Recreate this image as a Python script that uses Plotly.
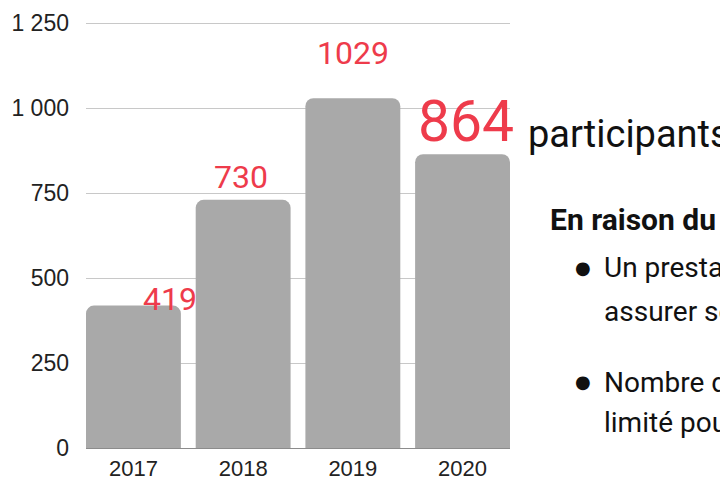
import plotly.graph_objects as go

years = ["2017", "2018", "2019", "2020"]
participants = [419, 730, 1029, 864]
label_texts = ["419", "730", "1029", "864"]
y_ticks = [0, 250, 500, 750, 1000, 1250]

BAR = "#a9a9a9"
RED = "#ee3b4b"
HAND = "Roboto, sans-serif"
COND = "Roboto, sans-serif"

# page body has an 8px offset; figure sized so it ends at the window edge
OFF = 8
W, H = 720, 474
L, R, T, B = 78, 218, 13, 34
pw, ph = W - L - R, H - T - B

def px(xs):
    return (xs - OFF - L) / pw

def py(ys):
    return (H - B - (ys - OFF)) / ph

fig = go.Figure()
fig.add_trace(go.Bar(
    x=years, y=participants,
    marker=dict(color=BAR, line=dict(width=0)),
    hoverinfo="x+y",
))

# value labels (anchored to the data points)
shifts = [(37, 7), (-2, 23), (0, 45), (3, 33)]
sizes = [32, 32, 32, 57]
for i, (v, t, (dx, dy), s) in enumerate(zip(participants, label_texts, shifts, sizes)):
    fig.add_annotation(x=i, y=v, xref="x", yref="y", text=t, showarrow=False,
                       xanchor="center", yanchor="middle", xshift=dx, yshift=dy,
                       font=dict(family=HAND, size=s, color=RED))

# right side text
fig.add_annotation(xref="paper", yref="paper", x=px(526), y=py(134), text="participants",
                   showarrow=False, xanchor="left", yanchor="middle",
                   font=dict(family=COND, size=38, color="#111111"))
fig.add_annotation(xref="paper", yref="paper", x=px(548), y=py(220),
                   text="<b>En raison du COVID-19 :</b>",
                   showarrow=False, xanchor="left", yanchor="middle",
                   font=dict(family=COND, size=30, color="#111111"))
lines = [
    (267, "Un prestataire n'a pas pu"),
    (311, "assurer ses ateliers"),
    (382, "Nombre de participants"),
    (422, "limité pour respecter les règles"),
]
for yp, t in lines:
    fig.add_annotation(xref="paper", yref="paper", x=px(602), y=py(yp), text=t,
                       showarrow=False, xanchor="left", yanchor="middle",
                       font=dict(family=COND, size=28, color="#111111"))
for yp in (267, 381):
    fig.add_annotation(xref="paper", yref="paper", x=px(583), y=py(yp), text="●",
                       showarrow=False, xanchor="center", yanchor="middle",
                       font=dict(family="DejaVu Sans", size=18, color="#111111"))

fig.update_layout(
    width=W, height=H,
    margin=dict(l=L, r=R, t=T, b=B, autoexpand=False),
    paper_bgcolor="white", plot_bgcolor="white",
    bargap=0.135, barcornerradius=8,
    separators=", ",
    showlegend=False,
    font=dict(family="Liberation Sans, Arial, sans-serif", size=23, color="#222222"),
)
fig.update_xaxes(
    type="category", range=[-0.4325, 3.4325], showgrid=False,
    showline=False, ticks="", ticklabelstandoff=5,
    tickfont=dict(size=22, color="#222222"), automargin=False,
)
fig.update_yaxes(
    range=[0, 1256], tickvals=y_ticks, tickformat=",d",
    showgrid=True, gridcolor="#c8c8c8", gridwidth=1,
    zeroline=True, zerolinecolor="#8c8c8c", zerolinewidth=1,
    showline=False, ticks="", ticklabelstandoff=16,
    tickfont=dict(size=23, color="#222222"), automargin=False,
)

fig.write_html("out.html")
